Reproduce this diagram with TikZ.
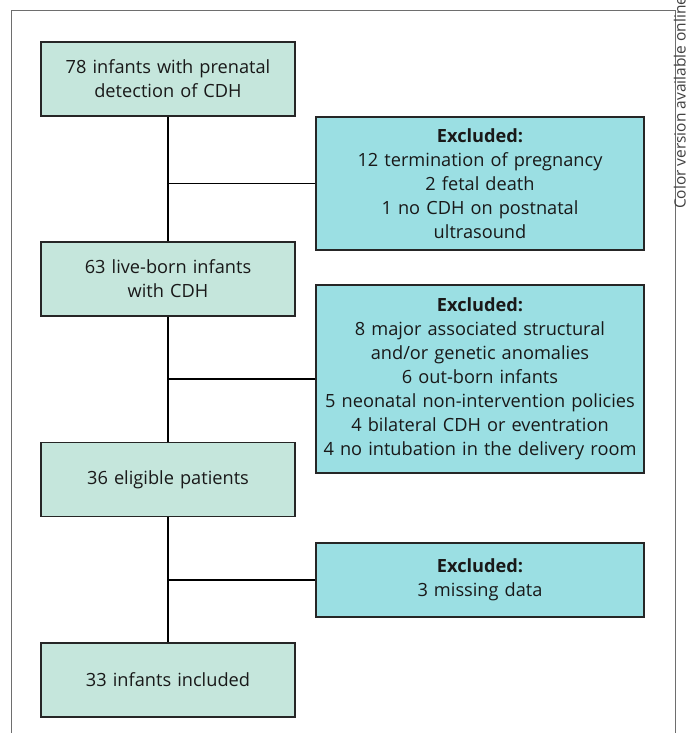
\documentclass[tikz,border=0pt]{standalone}
\usepackage{fontspec}
\setmainfont{Open Sans}
\usetikzlibrary{positioning}
\definecolor{keptgreen}{RGB}{197,230,220}
\definecolor{exclcyan}{RGB}{155,223,227}
\definecolor{framegray}{RGB}{110,110,110}

\tikzset{
  keptbox/.style={draw=black!85, line width=1.4pt, fill=keptgreen, align=center,
    text width=248pt, minimum width=254pt, minimum height=74pt, inner sep=0pt,
    font=\fontsize{18.2}{24}\selectfont, text=black!90},
  exclbox/.style={keptbox, fill=exclcyan, text width=326pt, minimum width=328pt},
}

\begin{document}
\begin{tikzpicture}[x=1pt, y=-1pt, line width=1.4pt]
    \useasboundingbox (0,0) rectangle (686,733);
    \draw[framegray, line width=1pt] (11,733) -- (11,11) -- (675,11) -- (675,733);
    \node[rotate=90, anchor=base west, text=black!75, font=\fontsize{15.5}{17}\selectfont] (note) at (685.5,213) {Color version available online};

    \node[keptbox] (prenatal) at (168,79) {78 infants with prenatal\\detection of CDH};
    \node[keptbox] (liveborn) at (168,279) {63 live-born infants\\with CDH};
    \node[keptbox] (eligible) at (168,479.5) {36 eligible patients};
    \node[keptbox] (included) at (168,680) {33 infants included};

    \node[exclbox, minimum height=133pt] (excl1) at (480,183.5) {\textbf{Excluded:}\\12 termination of pregnancy\\2 fetal death\\1 no CDH on postnatal\\ultrasound};
    \node[exclbox, minimum height=188pt] (excl2) at (480,379) {\textbf{Excluded:}\\8 major associated structural\\and/or genetic anomalies\\6 out-born infants\\5 neonatal non-intervention policies\\4 bilateral CDH or eventration\\4 no intubation in the delivery room};
    \node[exclbox] (excl3) at (480,580) {\textbf{Excluded:}\\3 missing data};

    \draw (prenatal) -- (liveborn);
    \draw (liveborn) -- (eligible);
    \draw (eligible) -- (included);
    \draw (excl1.west) -- (excl1.west -| prenatal.south);
    \draw (excl2.west) -- (excl2.west -| liveborn.south);
    \draw (excl3.west) -- (excl3.west -| eligible.south);
\end{tikzpicture}
\end{document}
